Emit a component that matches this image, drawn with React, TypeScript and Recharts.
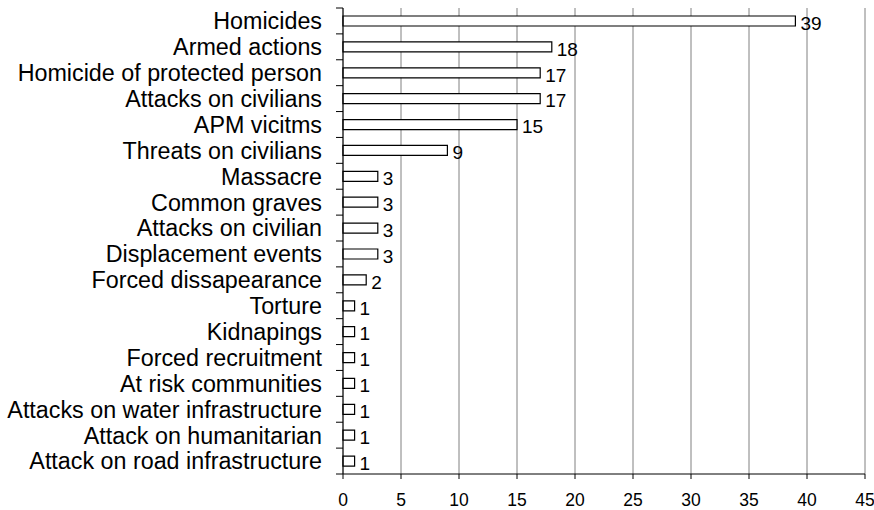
import React from "react";
import { BarChart, Bar, XAxis, YAxis, CartesianGrid, LabelList } from "recharts";

const categories = [
  "Homicides",
  "Armed actions",
  "Homicide of protected person",
  "Attacks on civilians",
  "APM vicitms",
  "Threats on civilians",
  "Massacre",
  "Common graves",
  "Attacks on civilian",
  "Displacement events",
  "Forced dissapearance",
  "Torture",
  "Kidnapings",
  "Forced recruitment",
  "At risk communities",
  "Attacks on water infrastructure",
  "Attack on humanitarian",
  "Attack on road infrastructure",
];

const values = [39, 18, 17, 17, 15, 9, 3, 3, 3, 3, 2, 1, 1, 1, 1, 1, 1, 1];

const xTicks = [0, 5, 10, 15, 20, 25, 30, 35, 40, 45];

const data = categories.map((name, i) => ({ name, value: values[i] }));

const W = 874;
const H = 510;
const MARGIN = { top: 8, right: 9, left: 0, bottom: 0 };
const YAXIS_W = 343;
const XAXIS_H = 36;
const PLOT_H = H - MARGIN.top - MARGIN.bottom - XAXIS_H;
const BAND = PLOT_H / categories.length;
const AXIS_X = MARGIN.left + YAXIS_W;
const FONT = "'Liberation Sans', Arial, Helvetica, sans-serif";

const CategoryTick = (props: any) => {
  const { y, payload, index } = props;
  const last = index === categories.length - 1;
  return (
    <g>
      <line x1={AXIS_X - 7} x2={AXIS_X} y1={y - BAND / 2} y2={y - BAND / 2} stroke="#000" strokeWidth={1} />
      {last && (
        <line x1={AXIS_X - 7} x2={AXIS_X} y1={y + BAND / 2} y2={y + BAND / 2} stroke="#000" strokeWidth={1} />
      )}
      <text
        x={AXIS_X - 21}
        y={y}
        textAnchor="end"
        dy="0.36em"
        fontSize={23.3}
        fontFamily={FONT}
        fill="#000"
      >
        {payload.value}
      </text>
    </g>
  );
};

export default function App() {
  return (
    <div style={{ position: "absolute", left: 0, top: 0, background: "#fff" }}>
      <BarChart
        width={W}
        height={H}
        data={data}
        layout="vertical"
        margin={MARGIN}
        barCategoryGap={0}
      >
        <CartesianGrid horizontal={false} stroke="#808080" strokeWidth={1} />
        <XAxis
          type="number"
          domain={[0, 45]}
          ticks={xTicks}
          interval={0}
          height={XAXIS_H}
          tickSize={5}
          tickMargin={15}
          stroke="#000"
          tick={{ fill: "#000", fontSize: 17.5, fontFamily: FONT }}
        />
        <XAxis
          xAxisId="top"
          orientation="top"
          type="number"
          domain={[0, 45]}
          height={0}
          tick={false}
          tickLine={false}
          axisLine={{ stroke: "#808080" }}
        />
        <YAxis
          type="category"
          dataKey="name"
          width={YAXIS_W}
          interval={0}
          tickLine={false}
          axisLine={{ stroke: "#000" }}
          tick={<CategoryTick />}
        />
        <Bar
          dataKey="value"
          fill="#fff"
          stroke="#000"
          strokeWidth={1.2}
          barSize={10}
          isAnimationActive={false}
        >
          <LabelList
            dataKey="value"
            position="right"
            offset={5}
            dy={2}
            fill="#000"
            fontSize={19}
            fontFamily={FONT}
          />
        </Bar>
      </BarChart>
    </div>
  );
}
